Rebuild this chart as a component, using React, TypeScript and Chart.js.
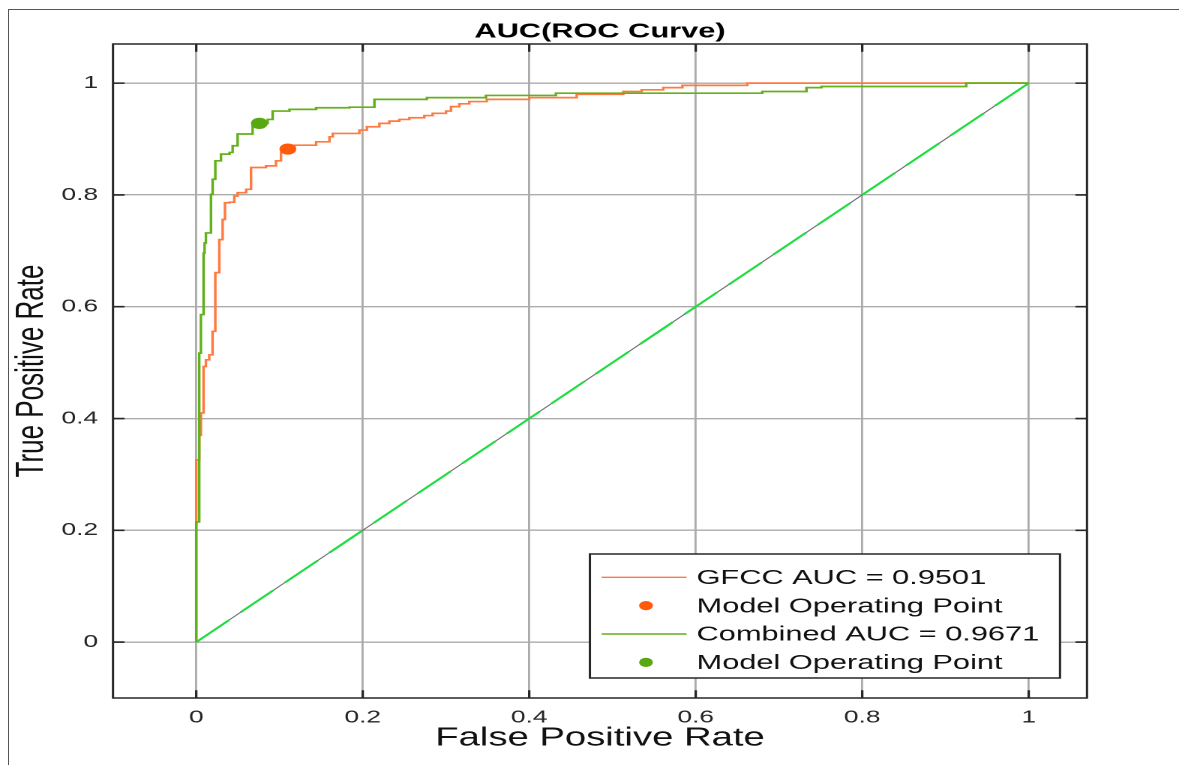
import React, { useEffect, useRef } from "react";
import { Chart, registerables } from "chart.js";

Chart.register(...registerables);

// ---------- data ----------
const gfccFpr = [0, 0, 0.0036, 0.0056, 0.0088, 0.0116, 0.0156, 0.0196, 0.0229, 0.0277, 0.0317, 0.0345, 0.04, 0.0457, 0.0497, 0.06, 0.0658, 0.0838, 0.0958, 0.1018, 0.11, 0.118, 0.144, 0.16, 0.164, 0.196, 0.205, 0.22, 0.232, 0.244, 0.256, 0.274, 0.284, 0.3, 0.306, 0.316, 0.328, 0.349, 0.4, 0.457, 0.513, 0.535, 0.561, 0.584, 0.662, 1];
const gfccTpr = [0, 0.326, 0.37, 0.41, 0.493, 0.505, 0.514, 0.556, 0.661, 0.72, 0.756, 0.786, 0.787, 0.798, 0.804, 0.81, 0.849, 0.852, 0.861, 0.876, 0.882, 0.889, 0.895, 0.904, 0.91, 0.916, 0.922, 0.928, 0.932, 0.935, 0.938, 0.942, 0.946, 0.95, 0.958, 0.963, 0.967, 0.971, 0.974, 0.98, 0.985, 0.988, 0.992, 0.996, 1, 1];

const combFpr = [0, 0, 0.0036, 0.0056, 0.0088, 0.01, 0.0116, 0.0177, 0.0197, 0.0229, 0.0297, 0.04, 0.0437, 0.0497, 0.0637, 0.0677, 0.0758, 0.0858, 0.0918, 0.112, 0.144, 0.184, 0.214, 0.277, 0.348, 0.432, 0.68, 0.733, 0.751, 0.925, 1];
const combTpr = [0, 0.215, 0.517, 0.586, 0.696, 0.714, 0.732, 0.801, 0.828, 0.861, 0.873, 0.876, 0.888, 0.909, 0.909, 0.926, 0.928, 0.935, 0.95, 0.953, 0.956, 0.957, 0.971, 0.974, 0.978, 0.982, 0.985, 0.992, 0.994, 1, 1];

const gfccOpFpr = [0.11];
const gfccOpTpr = [0.882];
const combOpFpr = [0.0758];
const combOpTpr = [0.928];

const diagFpr = [0, 1];
const diagTpr = [0, 1];

const tickValues = [0, 0.2, 0.4, 0.6, 0.8, 1];
const tickLabels = ["0", "0.2", "0.4", "0.6", "0.8", "1"];

const seriesLabels = [
  "GFCC AUC = 0.9501",
  "Model Operating Point",
  "Combined AUC = 0.9671",
  "Model Operating Point",
];
const titleText = "AUC(ROC Curve)";
const xTitle = "False Positive Rate";
const yTitle = "True Positive Rate";

// ---------- look ----------
const S = 1.5; // horizontal stretch of the reference
const W = 1179 / S;
const H = 765;
const PLOT_LEFT = 113 / S;
const PLOT_RIGHT = 1087 / S;
const PLOT_BOTTOM = 698;
const FONT = "'Liberation Sans', Arial, Helvetica, sans-serif";
const ORANGE = "#ff7a40";
const ORANGE_PT = "#ff5a0a";
const GREEN = "#62b01a";
const GREEN_PT = "#58a812";
const DIAG = "#1fdc40";
const AXIS = "#262626";

const pts = (xs: number[], ys: number[]) => xs.map((x, i) => ({ x, y: ys[i] }));

const framePlugin = {
  id: "frame",
  afterDatasetsDraw(chart: any) {
    const { ctx, chartArea: a, scales } = chart;
    const x = scales.x;
    const y = scales.y;
    ctx.save();
    ctx.strokeStyle = AXIS;
    ctx.lineWidth = 1.6;
    const tl = 7.7;
    ctx.beginPath();
    tickValues.forEach((v) => {
      const px = x.getPixelForValue(v);
      ctx.moveTo(px, a.bottom);
      ctx.lineTo(px, a.bottom - tl);
      ctx.moveTo(px, a.top);
      ctx.lineTo(px, a.top + tl);
      const py = y.getPixelForValue(v);
      ctx.moveTo(a.left, py);
      ctx.lineTo(a.left + tl, py);
      ctx.moveTo(a.right, py);
      ctx.lineTo(a.right - tl, py);
    });
    ctx.stroke();
    ctx.lineWidth = 1.5;
    ctx.strokeRect(a.left, a.top, a.right - a.left, a.bottom - a.top);
    ctx.restore();
  },
};

const legendPlugin = {
  id: "boxLegend",
  afterDraw(chart: any) {
    const { ctx, chartArea: a } = chart;
    const items = chart.data.datasets.filter((d: any) => d.label);
    const right = a.right - 18;
    const left = right - 313.4;
    const bottom = a.bottom - 20;
    const top = bottom - 124;
    ctx.save();
    ctx.fillStyle = "#ffffff";
    ctx.fillRect(left, top, right - left, bottom - top);
    ctx.strokeStyle = AXIS;
    ctx.lineWidth = 1.5;
    ctx.strokeRect(left, top, right - left, bottom - top);
    ctx.font = `20.5px ${FONT}`;
    ctx.textBaseline = "middle";
    ctx.textAlign = "left";
    items.forEach((d: any, i: number) => {
      const cy = top + 23.3 + i * 28.35;
      if (d.showLine === false) {
        ctx.fillStyle = d.pointBackgroundColor;
        ctx.beginPath();
        ctx.arc(left + 37.4, cy, 4.6, 0, Math.PI * 2);
        ctx.fill();
      } else {
        ctx.strokeStyle = d.borderColor;
        ctx.lineWidth = 1.4;
        ctx.beginPath();
        ctx.moveTo(left + 7.8, cy);
        ctx.lineTo(left + 64.5, cy);
        ctx.stroke();
      }
      ctx.fillStyle = "#111";
      ctx.fillText(d.label, left + 71.1, cy + 1);
    });
    ctx.restore();
  },
};

export default function App() {
  const ref = useRef<HTMLCanvasElement>(null);

  useEffect(() => {
    if (!ref.current) return;
    const tickCb = (v: any) => {
      const i = tickValues.indexOf(Number(v));
      return i >= 0 ? tickLabels[i] : "";
    };
    const chart = new Chart(ref.current, {
      type: "line",
      data: {
        datasets: [
          {
            label: seriesLabels[0],
            data: pts(gfccFpr, gfccTpr),
            borderColor: ORANGE,
            borderWidth: 1.7,
            pointRadius: 0,
            stepped: "before",
            fill: false,
            order: 3,
          },
          {
            label: seriesLabels[1],
            data: pts(gfccOpFpr, gfccOpTpr),
            showLine: false,
            pointRadius: 5.6,
            pointBorderWidth: 0,
            pointBackgroundColor: ORANGE_PT,
            pointBorderColor: ORANGE_PT,
            borderColor: ORANGE_PT,
            order: 1,
          },
          {
            label: seriesLabels[2],
            data: pts(combFpr, combTpr),
            borderColor: GREEN,
            borderWidth: 1.7,
            pointRadius: 0,
            stepped: "before",
            fill: false,
            order: 2,
          },
          {
            label: seriesLabels[3],
            data: pts(combOpFpr, combOpTpr),
            showLine: false,
            pointRadius: 5.6,
            pointBorderWidth: 0,
            pointBackgroundColor: GREEN_PT,
            pointBorderColor: GREEN_PT,
            borderColor: GREEN_PT,
            order: 0,
          },
          {
            label: "",
            data: pts(diagFpr, diagTpr),
            borderColor: "#6a6a6a",
            borderWidth: 0.9,
            pointRadius: 0,
            fill: false,
            order: 6,
          },
          {
            label: "",
            data: pts(diagFpr, diagTpr),
            borderColor: DIAG,
            borderWidth: 1.8,
            borderDash: [31, 11],
            borderCapStyle: "butt",
            pointRadius: 0,
            fill: false,
            order: 5,
          },
        ],
      } as any,
      options: {
        responsive: false,
        animation: false,
        devicePixelRatio: 2,
        events: [],
        layout: { padding: { left: 0, right: W - PLOT_RIGHT, top: 0, bottom: 0 } },
        plugins: {
          legend: { display: false },
          tooltip: { enabled: false },
          title: {
            display: true,
            fullSize: false,
            text: titleText,
            color: "#000",
            font: { family: FONT, size: 20.5, weight: "bold" },
            padding: { top: 19.3, bottom: 0.1 },
          },
        },
        scales: {
          x: {
            type: "linear",
            min: -0.1,
            max: 1.07,
            afterBuildTicks: (s: any) => {
              s.ticks = tickValues.map((v) => ({ value: v }));
            },
            afterFit: (s: any) => {
              s.height = H - PLOT_BOTTOM;
            },
            grid: { color: "#ababab", lineWidth: 1.4, drawTicks: false },
            border: { display: false },
            ticks: {
              callback: tickCb,
              padding: 9,
              color: AXIS,
              maxRotation: 0,
              autoSkip: false,
              font: { family: FONT, size: 17.5 },
            },
            title: {
              display: true,
              text: xTitle,
              color: "#111",
              font: { family: FONT, size: 25.5 },
              padding: { top: 0, bottom: 11 },
            },
          },
          y: {
            type: "linear",
            min: -0.1,
            max: 1.07,
            afterBuildTicks: (s: any) => {
              s.ticks = tickValues.map((v) => ({ value: v }));
            },
            afterFit: (s: any) => {
              s.width = PLOT_LEFT;
            },
            grid: { color: "#ababab", lineWidth: 1.4, drawTicks: false },
            border: { display: false },
            ticks: {
              callback: tickCb,
              padding: 10,
              color: AXIS,
              autoSkip: false,
              font: { family: FONT, size: 17.5 },
            },
            title: {
              display: true,
              text: yTitle,
              color: "#111",
              font: { family: FONT, size: 26 },
              padding: { top: 5.5, bottom: 0 },
            },
          },
        },
      } as any,
      plugins: [framePlugin, legendPlugin],
    });
    return () => chart.destroy();
  }, []);

  return (
    <div
      style={{
        position: "fixed",
        left: 0,
        top: 0,
        width: 1179,
        height: 765,
        background: "#fff",
        overflow: "hidden",
      }}
    >
      <div
        style={{
          position: "absolute",
          left: 8,
          top: 9,
          width: 1171,
          height: 800,
          borderTop: "1.5px solid #555",
          borderLeft: "1.5px solid #555",
          boxSizing: "border-box",
        }}
      />
      <div
        style={{
          position: "absolute",
          left: 0,
          top: 0,
          width: W,
          height: H,
          transform: `scaleX(${S})`,
          transformOrigin: "0 0",
        }}
      >
        <canvas ref={ref} width={W} height={H} style={{ display: "block" }} />
      </div>
    </div>
  );
}
